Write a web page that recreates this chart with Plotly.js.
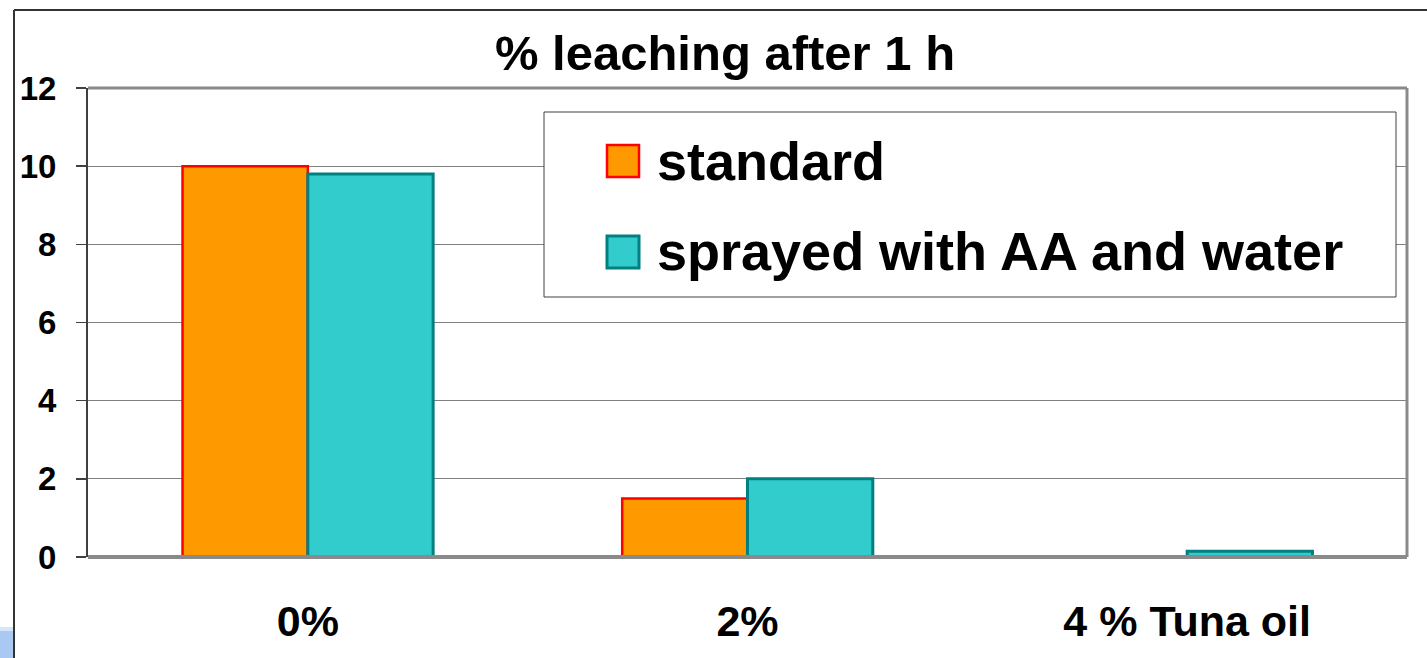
<!DOCTYPE html>
<html>
<head>
<meta charset="utf-8">
<script src="https://cdn.plot.ly/plotly-3.0.1.min.js"></script>
<style>
  html, body { margin: 0; padding: 0; background: #ffffff; }
  #chart { width: 1427px; height: 658px; }
</style>
</head>
<body>
<div id="chart"></div>
<script>
// Tuna oil level categories and leaching after 1 h (%)
const categories = ['0%', '2%', '4 % Tuna oil'];
const seriesNames = ['standard', 'sprayed with AA and water'];
const standardValues = [10.0, 1.5, 0];
const sprayedValues = [9.8, 2.0, 0.15];
const yTicks = [0, 2, 4, 6, 8, 10, 12];

const FONT = 'Arial, "Liberation Sans", sans-serif';
const W = 1427, H = 658;
const M = { l: 88, r: 20, t: 88, b: 101 };
const plotW = W - M.l - M.r, plotH = H - M.t - M.b;

// pixel -> paper coordinate helpers for frame and legend decoration
const px = x => (x - M.l) / plotW;
const py = y => (H - M.b - y) / plotH;

const orange = { fill: '#FF9900', edge: '#FF0000' };
const teal = { fill: '#33CCCC', edge: '#008080' };

const traces = [
  {
    type: 'bar', name: seriesNames[0], x: categories, y: standardValues,
    marker: { color: orange.fill, line: { color: orange.edge, width: 2.5 } },
    showlegend: false, hoverinfo: 'x+y'
  },
  {
    type: 'bar', name: seriesNames[1], x: categories, y: sprayedValues,
    marker: { color: teal.fill, line: { color: teal.edge, width: 3 } },
    showlegend: false, hoverinfo: 'x+y'
  }
];

const shapes = [
  // plot frame: top, right and baseline in gray
  { type: 'line', xref: 'paper', yref: 'paper', x0: 0, x1: 1, y0: 1, y1: 1, line: { color: '#8a8a8a', width: 3 } },
  { type: 'line', xref: 'paper', yref: 'paper', x0: 1, x1: 1, y0: 0, y1: 1, line: { color: '#8a8a8a', width: 3 } },
  { type: 'line', xref: 'paper', yref: 'paper', x0: 0, x1: 1, y0: 0, y1: 0, line: { color: '#8a8a8a', width: 4 }, layer: 'above' },
  // outer slide frame
  { type: 'line', xref: 'paper', yref: 'paper', x0: px(14), x1: px(14), y0: py(10), y1: py(H), line: { color: '#333333', width: 2 } },
  { type: 'line', xref: 'paper', yref: 'paper', x0: px(14), x1: px(W), y0: py(10), y1: py(10), line: { color: '#333333', width: 2 } },
  // corner tab at lower left
  { type: 'rect', xref: 'paper', yref: 'paper', x0: px(0), x1: px(13), y0: py(627), y1: py(H), line: { width: 0 }, fillcolor: '#a9c8f2' },
  { type: 'rect', xref: 'paper', yref: 'paper', x0: px(0), x1: px(13), y0: py(627), y1: py(631), line: { width: 0 }, fillcolor: '#d6e6fa' },
  // legend box
  { type: 'rect', xref: 'paper', yref: 'paper', x0: px(544), x1: px(1396), y0: py(297), y1: py(112), line: { color: '#404040', width: 1 }, fillcolor: '#ffffff' },
  { type: 'rect', xref: 'paper', yref: 'paper', x0: px(607), x1: px(639), y0: py(177), y1: py(145), line: { color: orange.edge, width: 2.5 }, fillcolor: orange.fill },
  { type: 'rect', xref: 'paper', yref: 'paper', x0: px(607), x1: px(639), y0: py(268), y1: py(236), line: { color: teal.edge, width: 3 }, fillcolor: teal.fill }
];

const annotations = [
  { xref: 'paper', yref: 'paper', x: px(655), y: py(161), xanchor: 'left', yanchor: 'middle', showarrow: false,
    text: '<b>' + seriesNames[0] + '</b>', font: { family: FONT, size: 54, color: '#000000' } },
  { xref: 'paper', yref: 'paper', x: px(655), y: py(251), xanchor: 'left', yanchor: 'middle', showarrow: false,
    text: '<b>' + seriesNames[1] + '</b>', font: { family: FONT, size: 54, color: '#000000' } }
];

const layout = {
  width: W, height: H,
  margin: M,
  paper_bgcolor: '#ffffff', plot_bgcolor: '#ffffff',
  font: { family: FONT, color: '#000000' },
  title: {
    text: '<b>% leaching after 1 h</b>',
    font: { family: FONT, size: 49, color: '#000000' },
    x: 725 / W, xanchor: 'center', xref: 'container',
    y: 1 - 53 / H, yanchor: 'middle', yref: 'container'
  },
  barmode: 'group', bargap: 0.43, bargroupgap: 0,
  xaxis: {
    type: 'category', categoryarray: categories,
    showgrid: false, zeroline: false, showline: false,
    ticks: '', ticklabelstandoff: 35,
    tickfont: { family: FONT, size: 43, color: '#000000', weight: 'bold' }
  },
  yaxis: {
    range: [0, 12], tickvals: yTicks, ticktext: yTicks.map(String),
    showgrid: true, gridcolor: '#808080', gridwidth: 1,
    zeroline: false, showline: true, linecolor: '#404040', linewidth: 2,
    ticks: 'outside', ticklen: 10, tickcolor: '#404040', tickwidth: 1.5,
    ticklabelstandoff: 13,
    tickfont: { family: FONT, size: 33, color: '#000000', weight: 'bold' }
  },
  shapes: shapes,
  annotations: annotations,
  showlegend: false
};

Plotly.newPlot('chart', traces, layout, { displayModeBar: false, staticPlot: true });
</script>
</body>
</html>
